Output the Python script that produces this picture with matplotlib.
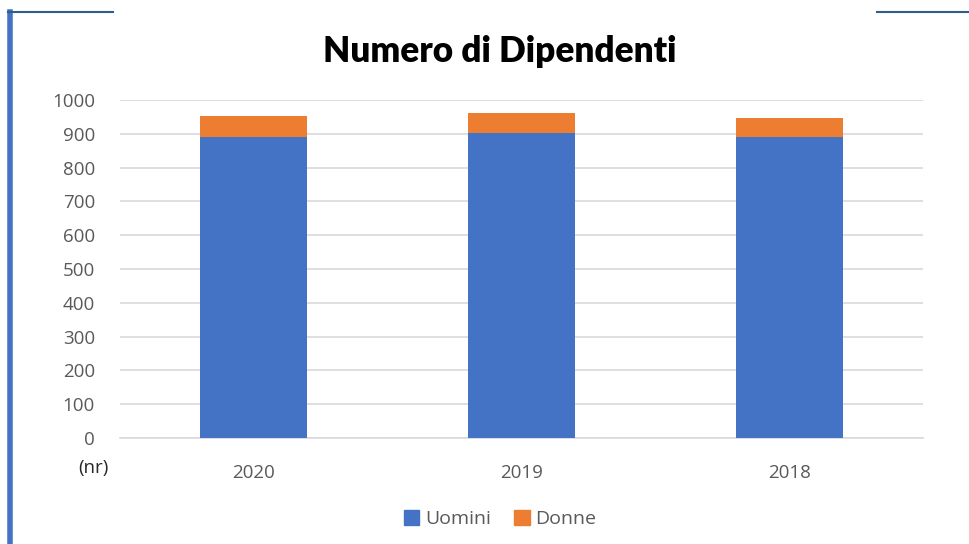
import matplotlib
matplotlib.use("Agg")
import matplotlib.pyplot as plt
from matplotlib.lines import Line2D
from matplotlib.patches import Patch

years = ["2020", "2019", "2018"]
uomini = [890, 901, 890]
donne = [62, 62, 56]
yticks = [0, 100, 200, 300, 400, 500, 600, 700, 800, 900, 1000]

BLUE = "#4472C4"
ORANGE = "#ED7D31"
GRAY = "#595959"
W, H = 970, 544

fig = plt.figure(figsize=(W / 100, H / 100), dpi=100)
ax = fig.add_axes([120 / W, 1 - 438 / H, (923 - 120) / W, (438 - 100) / H])

x = list(range(len(years)))
ax.bar(x, uomini, width=0.4, color=BLUE, label="Uomini", zorder=3)
ax.bar(x, donne, width=0.4, bottom=uomini, color=ORANGE, label="Donne", zorder=3)

ax.set_xlim(-0.5, len(years) - 0.5)
ax.set_ylim(0, 1000)
ax.set_yticks(yticks)
ax.set_yticklabels([str(v) for v in yticks])
ax.set_xticks(x)
ax.set_xticklabels(years)
ax.grid(axis="y", color="#D9D9D9", linewidth=1.2, zorder=0)
ax.set_axisbelow(True)
for s in ["top", "right", "left"]:
    ax.spines[s].set_visible(False)
ax.spines["bottom"].set_color("#D9D9D9")
ax.spines["bottom"].set_linewidth(1.2)
ax.tick_params(axis="both", length=0, labelsize=13.5, labelcolor=GRAY)
ax.tick_params(axis="y", pad=18)
ax.tick_params(axis="x", pad=19)
for lab in ax.get_xticklabels() + ax.get_yticklabels():
    lab.set_fontfamily("Open Sans")

fig.text(93 / W, 1 - 468 / H, "(nr)", ha="center", va="center",
         fontsize=13.5, color="#262626", fontfamily="Open Sans")

fig.text(500 / W, 1 - 52 / H, "Numero di Dipendenti", ha="center", va="center",
         fontsize=25.3, fontweight="heavy", color="black", fontfamily="Lato")

handles = [Patch(color=BLUE, label="Uomini"), Patch(color=ORANGE, label="Donne")]
fig.legend(handles=handles, loc="center", bbox_to_anchor=(500 / W, 1 - 519 / H),
           ncol=2, frameon=False, handlelength=0.8, handleheight=0.8,
           handletextpad=0.3, columnspacing=1.2,
           prop={"family": "Open Sans", "size": 14}, labelcolor=GRAY)

# decorative border lines
fig.add_artist(Line2D([10 / W, 10 / W], [1 - 12 / H, 0], color=BLUE, linewidth=4,
                      transform=fig.transFigure))
fig.add_artist(Line2D([8 / W, 113 / W], [1 - 12 / H, 1 - 12 / H], color="#2E5E8E",
                      linewidth=1.5, transform=fig.transFigure))
fig.add_artist(Line2D([877 / W, 1.0], [1 - 12 / H, 1 - 12 / H], color="#2E5E8E",
                      linewidth=1.5, transform=fig.transFigure))

fig.savefig("out.png", dpi=100)
